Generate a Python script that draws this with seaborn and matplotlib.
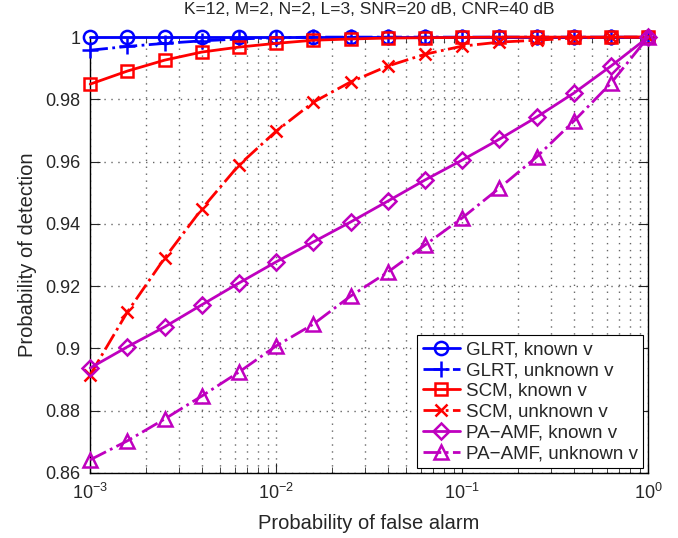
import numpy as np
import pandas as pd
import matplotlib
matplotlib.use("Agg")
import matplotlib.pyplot as plt
import seaborn as sns
from matplotlib.ticker import LogLocator, NullFormatter

pfa = [10 ** (-3 + 0.2 * k) for k in range(16)]

glrt_known = [1.0] * 16
glrt_unknown = [0.9958, 0.997, 0.998, 0.9988, 0.9994, 0.9998, 1.0, 1.0, 1.0, 1.0, 1.0, 1.0, 1.0, 1.0, 1.0, 1.0]
scm_known = [0.9849, 0.9891, 0.9926, 0.9952, 0.9968, 0.998, 0.999, 0.9994, 0.9997, 0.9998, 0.9999, 1.0, 1.0, 1.0, 1.0, 1.0]
scm_unknown = [0.8915, 0.9117, 0.929, 0.9448, 0.9589, 0.9698, 0.9791, 0.9856, 0.9907, 0.9945, 0.9971, 0.9984, 0.999, 0.9997, 1.0, 1.0]
pa_known = [0.8937, 0.9005, 0.9069, 0.914, 0.921, 0.9278, 0.9342, 0.9406, 0.9473, 0.9541, 0.9605, 0.9672, 0.9743, 0.982, 0.9907, 1.0]
pa_unknown = [0.8642, 0.8703, 0.8773, 0.8847, 0.8924, 0.9008, 0.9078, 0.9168, 0.9245, 0.9332, 0.9419, 0.9515, 0.9615, 0.973, 0.9852, 1.0]

series = [
    ("GLRT, known v", glrt_known, "#0000ff", "-", "o", 9.5),
    ("GLRT, unknown v", glrt_unknown, "#0000ff", "-.", "+", 12),
    ("SCM, known v", scm_known, "#ff0000", "-", "s", 8.5),
    ("SCM, unknown v", scm_unknown, "#ff0000", "-.", "x", 9),
    ("PA\u2212AMF, known v", pa_known, "#bf00bf", "-", "D", 8),
    ("PA\u2212AMF, unknown v", pa_unknown, "#bf00bf", "-.", "^", 10),
]

sns.set_style("ticks")
plt.rcParams['font.family'] = ['Liberation Sans', 'DejaVu Sans']

fig = plt.figure(figsize=(6.78, 5.38), dpi=100)
ax = fig.add_axes([0.133, 0.121, 0.823, 0.81])

for name, vals, col, ls, mk, ms in series:
    df = pd.DataFrame({"pfa": pfa, "pd": vals})
    sns.lineplot(data=df, x="pfa", y="pd", ax=ax, color=col, linestyle=ls,
                 marker=mk, markersize=ms, markerfacecolor="none",
                 markeredgecolor=col, markeredgewidth=1.8, linewidth=2.0,
                 label=name, clip_on=False, zorder=3)

ax.set_xscale("log")
ax.set_xlim(1e-3, 1)
ax.set_ylim(0.86, 1.0)
ax.set_yticks(np.arange(0.86, 1.001, 0.02))
ax.set_yticklabels(["0.86", "0.88", "0.9", "0.92", "0.94", "0.96", "0.98", "1"])
ax.xaxis.set_major_locator(LogLocator(base=10, numticks=10))
ax.xaxis.set_minor_locator(LogLocator(base=10, subs=np.arange(2, 10), numticks=10))
ax.xaxis.set_minor_formatter(NullFormatter())
grid_kw = dict(linestyle=(0, (1, 4)), color="#666666", linewidth=1.0)
ax.grid(True, which="major", **grid_kw)
ax.grid(True, which="minor", axis="x", **grid_kw)
ax.set_axisbelow(True)
ax.tick_params(direction="in", which="both", top=True, right=True, labelsize=13)
ax.tick_params(which="major", length=7, pad=7)
ax.tick_params(which="minor", length=4)
for s in ax.spines.values():
    s.set_linewidth(1.0)
    s.set_color("black")

ax.set_xlabel("Probability of false alarm", fontsize=14.5, labelpad=8)
ax.set_ylabel("Probability of detection", fontsize=14.5, labelpad=6)
ax.set_title("K=12, M=2, N=2, L=3, SNR=20 dB, CNR=40 dB", fontsize=12.5, pad=17)

leg = ax.legend(loc="lower right", fontsize=13.5, frameon=True, fancybox=False,
                edgecolor="black", framealpha=1, handlelength=2.0,
                borderaxespad=0.25, labelspacing=0.2, handletextpad=0.3,
                borderpad=0.3)
leg.get_frame().set_linewidth(0.8)

fig.savefig("out.png", dpi=100)
